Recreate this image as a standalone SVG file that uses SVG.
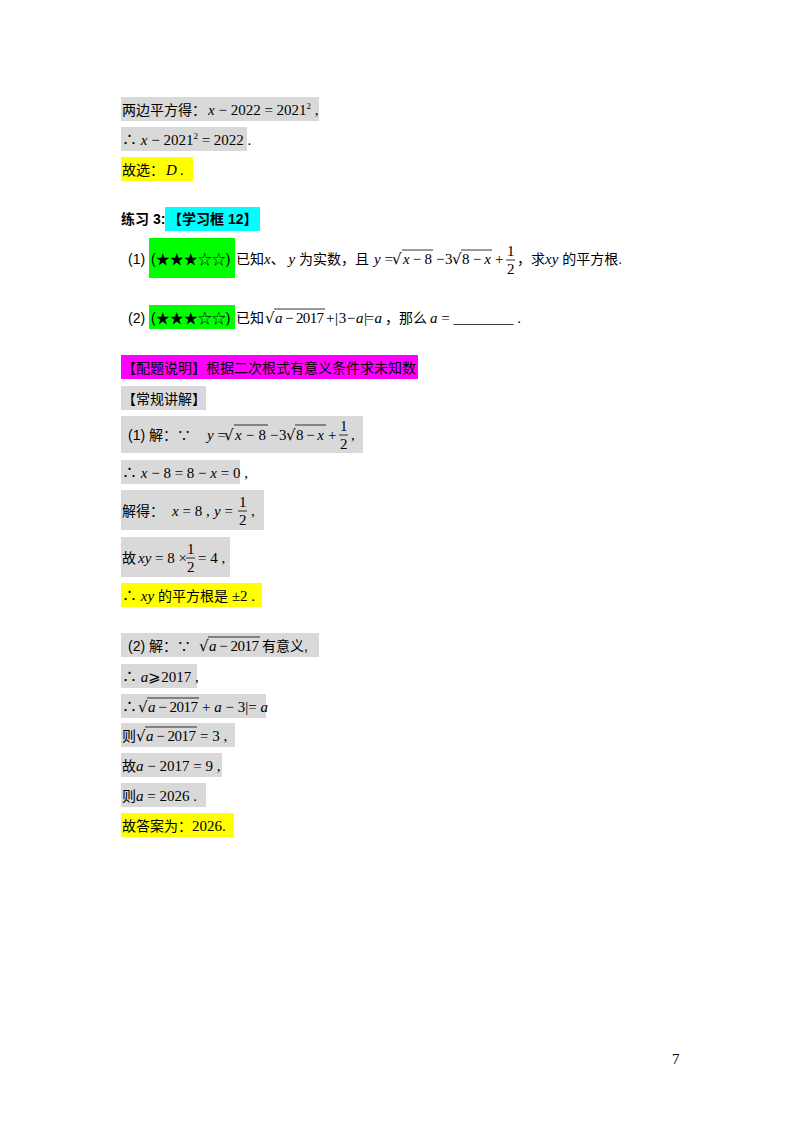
<svg xmlns="http://www.w3.org/2000/svg" width="800" height="1132" viewBox="0 0 800 1132">
<style>
text{font-family:"Liberation Sans","Noto Sans CJK SC",sans-serif;font-size:14px;fill:#000}
.m{font-family:"Liberation Serif","Noto Sans CJK SC",serif;font-size:15px}
.i{font-style:italic}
.r{font-family:"DejaVu Serif",serif;font-size:15px}
.g{fill:#d9d9d9}.y{fill:#ffff00}.gr{fill:#00ff00}.c{fill:#00ffff}.p{fill:#ff00ff}
.b{font-weight:bold}
line{stroke:#000;stroke-width:0.8}
</style>
<rect fill="#fff" width="800" height="1132"/>
<g id="l1"><rect class="g" x="121" y="97" width="198" height="24"/><text x="122" y="115">两边平方得：</text><text class="m" x="208" y="115"><tspan class="i">x</tspan> − 2022 = 2021<tspan font-size="9" dy="-6">2</tspan><tspan dy="6"> ,</tspan></text></g>
<g id="l2"><rect class="g" x="121" y="127" width="126" height="24"/><text class="m" x="122" y="145">∴ <tspan class="i">x</tspan> − 2021<tspan font-size="9" dy="-6">2</tspan><tspan dy="6"> = 2022 .</tspan></text></g>
<g id="l3"><rect class="y" x="121" y="157" width="72" height="24"/><text x="122" y="175">故选：</text><text class="m i" x="166" y="175">D</text><text class="m" x="180" y="175">.</text></g>
<g id="ex3"><rect class="c" x="165" y="207" width="95" height="24"/><text class="b" x="121" y="224">练习 3:</text><text class="b" x="168" y="224">【学习框 12】</text></g>
<g id="q1"><rect class="gr" x="149" y="238" width="86" height="40"/><text x="128" y="264">(1)</text><text x="151" y="264">(★★★☆☆)</text>
<text x="236" y="264">已知<tspan class="m i">x</tspan>、  <tspan class="m i">y</tspan> 为实数，且</text>
<text class="m" x="374" y="264"><tspan class="i">y</tspan> =</text>
<text class="r" x="392" y="264">√</text><text class="m" x="403" y="264" textLength="29"><tspan class="i">x</tspan> − 8</text>
<text class="m" x="436" y="264">−</text><text class="m" x="445" y="264">3</text><text class="r" x="452" y="264">√</text><text class="m" x="462" y="264" textLength="29">8 − <tspan class="i">x</tspan></text>
<text class="m" x="495" y="264">+</text>
<line x1="402" y1="250" x2="433" y2="250"/><line x1="461" y1="250" x2="492" y2="250"/>
<text class="m" x="507" y="256">1</text><line x1="506" y1="260" x2="515" y2="260"/><text class="m" x="507" y="274">2</text>
<text x="517" y="264">，求<tspan class="m i">xy</tspan> 的平方根.</text></g>
<g id="q2"><rect class="gr" x="149" y="305" width="86" height="24"/><text x="128" y="323">(2)</text><text x="151" y="323">(★★★☆☆)</text>
<text x="236" y="323">已知</text><text class="r" x="265" y="323">√</text><text class="m" x="275" y="323" textLength="49"><tspan class="i">a</tspan> − 2017</text>
<text class="m" x="326" y="323" textLength="56">+ | 3 − <tspan class="i">a</tspan> |= <tspan class="i">a</tspan></text>
<text x="385" y="323">，那么</text><text class="m" x="430" y="323"><tspan class="i">a</tspan> = ________ .</text>
<line x1="274" y1="309" x2="325" y2="309"/></g>
<g id="note"><rect class="p" x="121" y="355" width="297" height="24"/><text x="122" y="373">【配题说明】根据二次根式有意义条件求未知数</text></g>
<g id="hd"><rect class="g" x="121" y="386" width="85" height="24"/><text x="122" y="404">【常规讲解】</text></g>
<g id="s1"><rect class="g" x="121" y="416" width="242" height="37"/><text x="128" y="440">(1) 解：∵</text>
<text class="m" x="207" y="440"><tspan class="i">y</tspan> =</text>
<text class="r" x="224" y="440">√</text><text class="m" x="235" y="440" textLength="31"><tspan class="i">x</tspan> − 8</text>
<text class="m" x="270" y="440">−</text><text class="m" x="279" y="440">3</text><text class="r" x="286" y="440">√</text><text class="m" x="296" y="440" textLength="28">8 − <tspan class="i">x</tspan></text>
<text class="m" x="328" y="440">+</text>
<line x1="234" y1="425" x2="268" y2="425"/><line x1="295" y1="425" x2="326" y2="425"/>
<text class="m" x="340" y="431">1</text><line x1="339" y1="435" x2="348" y2="435"/><text class="m" x="340" y="449">2</text><text class="m" x="351" y="440">,</text></g>
<g id="s2"><rect class="g" x="121" y="460" width="119" height="24"/><text class="m" x="122" y="478">∴ <tspan class="i">x</tspan> − 8 = 8 − <tspan class="i">x</tspan> = 0 ,</text></g>
<g id="s3"><rect class="g" x="121" y="490" width="143" height="40"/><text x="122" y="516">解得：</text><text class="m" x="172" y="516"><tspan class="i">x</tspan> = 8 ,</text><text class="m" x="214" y="516"><tspan class="i">y</tspan> =</text>
<text class="m" x="239" y="507">1</text><line x1="238" y1="511" x2="247" y2="511"/><text class="m" x="239" y="525">2</text><text class="m" x="251" y="516">,</text></g>
<g id="s4"><rect class="g" x="121" y="537" width="109" height="40"/><text x="122" y="563">故</text><text class="m" x="138" y="563"><tspan class="i">xy</tspan> = 8 ×</text>
<text class="m" x="187" y="554">1</text><line x1="186" y1="558" x2="195" y2="558"/><text class="m" x="187" y="572">2</text><text class="m" x="198" y="563">= 4 ,</text></g>
<g id="s5"><rect class="y" x="121" y="583" width="141" height="24"/><text x="122" y="601"><tspan class="m">∴ <tspan class="i">xy</tspan></tspan> 的平方根是 <tspan class="m">±2 .</tspan></text></g>
<g id="t1"><rect class="g" x="121" y="633" width="198" height="24"/><text x="128" y="651">(2) 解：∵</text><text class="r" x="199" y="651">√</text><text class="m" x="209" y="651" textLength="50"><tspan class="i">a</tspan> − 2017</text><text x="262" y="651">有意义,</text><line x1="208" y1="637" x2="260" y2="637"/></g>
<g id="t2"><rect class="g" x="121" y="664" width="76" height="24"/><text class="m" x="122" y="682">∴ <tspan class="i">a</tspan>⩾2017 ,</text></g>
<g id="t3"><rect class="g" x="121" y="694" width="145" height="24"/><text class="m" x="122" y="712">∴</text><text class="r" x="138" y="712">√</text><text class="m" x="148" y="712" textLength="50"><tspan class="i">a</tspan> − 2017</text><text class="m" x="202" y="712">+ <tspan class="i">a</tspan> − 3|= <tspan class="i">a</tspan></text><line x1="147" y1="698" x2="199" y2="698"/></g>
<g id="t4"><rect class="g" x="121" y="723" width="114" height="24"/><text x="122" y="741">则</text><text class="r" x="136" y="741">√</text><text class="m" x="146" y="741" textLength="50"><tspan class="i">a</tspan> − 2017</text><text class="m" x="200" y="741">= 3 ,</text><line x1="145" y1="727" x2="197" y2="727"/></g>
<g id="t5"><rect class="g" x="121" y="753" width="101" height="24"/><text x="122" y="771">故<tspan class="m"><tspan class="i">a</tspan> − 2017 = 9 ,</tspan></text></g>
<g id="t6"><rect class="g" x="121" y="783" width="85" height="24"/><text x="122" y="801">则<tspan class="m"><tspan class="i">a</tspan> = 2026 .</tspan></text></g>
<g id="t7"><rect class="y" x="121" y="813" width="113" height="24"/><text x="122" y="831">故答案为：<tspan class="m">2026.</tspan></text></g>
<g id="connectors"/>
<text class="m" x="672" y="1064">7</text>
</svg>
